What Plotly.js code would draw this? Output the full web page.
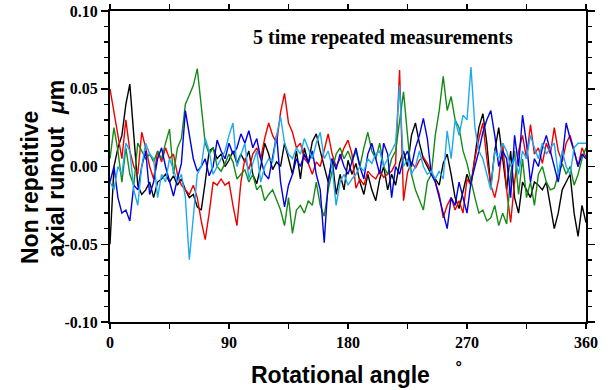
<!DOCTYPE html>
<html><head><meta charset="utf-8">
<script src="https://cdn.plot.ly/plotly-3.0.1.min.js"></script>
<style>html,body{margin:0;padding:0;background:#fff}#chart{width:612px;height:390px}</style>
</head><body><div id="chart"></div>
<script>
const angles = [0,3,6,9,12,15,18,21,24,27,30,33,36,39,42,45,48,51,54,57,60,63,66,69,72,75,78,81,84,87,
90,93,96,99,102,105,108,111,114,117,120,123,126,129,132,135,138,141,144,147,150,153,156,159,162,165,168,171,174,177,
180,183,186,189,192,195,198,201,204,207,210,213,216,219,222,225,228,231,234,237,240,243,246,249,252,255,258,261,264,267,
270,273,276,279,282,285,288,291,294,297,300,303,306,309,312,315,318,321,324,327,330,333,336,339,342,345,348,351,354,357,360];

const run1Black = [-0.050,0.000,0.012,0.020,0.040,0.053,0.020,-0.012,-0.018,-0.015,
-0.010,-0.020,-0.010,-0.008,-0.005,-0.010,-0.006,-0.012,-0.008,-0.015,
-0.020,-0.018,-0.026,-0.028,-0.010,0.010,0.012,0.005,0.008,0.000,
0.004,0.010,0.002,0.008,0.003,0.010,-0.005,-0.011,0.000,0.015,
0.008,-0.002,0.003,0.000,0.015,0.005,-0.005,0.010,-0.008,0.012,
0.002,0.016,0.021,0.010,0.000,-0.010,0.005,-0.018,-0.005,-0.015,
0.004,-0.005,0.002,-0.010,-0.018,-0.005,-0.015,-0.022,-0.008,0.000,
-0.015,-0.005,-0.012,0.002,0.010,0.000,0.020,0.028,0.015,0.005,
0.000,-0.005,-0.008,-0.012,0.002,0.008,-0.005,-0.020,-0.027,-0.015,
-0.005,-0.012,0.005,0.025,0.034,0.015,-0.013,0.010,0.025,0.005,
-0.015,0.010,-0.020,-0.030,-0.010,-0.015,-0.020,-0.010,-0.012,-0.015,
-0.010,-0.025,-0.040,-0.030,-0.015,-0.010,-0.005,-0.030,-0.045,-0.025,
-0.036];

const run2Red = [0.050,0.035,0.020,0.005,0.030,0.010,0.000,-0.005,0.022,0.012,
0.000,-0.008,0.010,0.003,0.012,0.005,0.008,-0.005,-0.012,-0.015,
-0.018,-0.012,-0.020,-0.035,-0.047,-0.030,-0.010,-0.012,-0.008,-0.012,
-0.010,-0.025,-0.038,-0.010,0.005,-0.002,0.008,0.012,0.005,0.018,
0.028,0.020,0.015,0.035,0.047,0.028,0.022,0.012,0.015,0.005,
0.002,-0.005,0.003,0.000,0.010,0.021,0.008,0.000,0.005,0.012,
0.017,0.008,-0.014,-0.008,-0.012,-0.003,-0.006,-0.008,-0.003,-0.007,
-0.005,-0.003,0.002,0.062,-0.022,-0.004,0.003,-0.001,0.004,0.006,
0.002,-0.003,-0.010,-0.018,-0.033,-0.025,-0.020,-0.028,-0.022,-0.030,
-0.008,-0.012,0.005,0.018,0.028,0.005,-0.012,-0.020,-0.008,0.015,
-0.015,-0.036,-0.010,0.010,0.020,0.005,0.027,0.008,0.012,0.002,
0.015,0.008,0.025,0.010,0.003,0.015,0.020,0.010,0.000,0.012,
0.006];

const run3Green = [0.005,0.025,0.010,-0.010,0.012,-0.005,-0.012,0.015,0.010,0.005,
0.008,0.003,0.010,0.005,0.015,0.024,-0.005,0.012,0.018,0.040,
0.046,0.052,0.063,0.040,0.015,0.008,0.012,0.000,-0.003,0.002,
0.008,0.003,-0.008,-0.005,-0.002,-0.010,-0.005,-0.015,-0.012,-0.022,
-0.018,-0.015,-0.022,-0.028,-0.038,-0.020,-0.043,-0.028,-0.025,-0.030,
-0.022,-0.025,-0.010,-0.025,-0.032,-0.015,-0.003,0.008,0.012,0.005,
0.010,0.003,0.010,0.000,0.012,0.022,0.010,0.005,0.015,0.000,
-0.005,0.005,0.010,0.030,0.048,0.020,-0.005,-0.015,-0.022,-0.028,
-0.010,-0.005,0.020,0.036,0.058,0.036,0.045,0.030,0.025,0.010,
0.002,-0.010,-0.020,-0.030,-0.028,-0.035,-0.033,-0.025,-0.038,-0.030,
-0.037,-0.005,0.010,-0.018,0.005,-0.020,-0.010,-0.025,-0.005,0.000,
-0.010,-0.015,-0.014,-0.005,0.002,-0.005,0.000,-0.012,-0.005,0.005,
0.012];

const run4Blue = [-0.010,0.000,-0.020,-0.030,-0.028,-0.035,-0.012,-0.015,0.000,0.010,
-0.018,-0.010,0.005,0.012,0.000,-0.010,-0.019,-0.008,0.002,0.036,
0.020,0.005,-0.003,0.000,0.005,-0.006,0.000,0.017,0.010,0.005,
0.015,0.008,0.012,0.021,0.015,0.023,0.012,0.018,0.005,-0.005,
-0.008,0.005,0.020,-0.010,-0.026,-0.012,-0.005,0.005,0.000,0.008,
0.002,0.010,-0.005,-0.015,-0.049,-0.010,0.005,-0.002,0.008,0.000,
-0.005,0.003,0.012,0.000,-0.008,0.008,0.015,0.005,-0.005,0.015,
0.008,-0.020,0.000,-0.005,0.005,0.010,0.000,0.012,0.020,0.031,
0.018,-0.005,-0.010,-0.020,-0.030,-0.040,-0.020,-0.025,-0.010,-0.020,
-0.030,-0.010,0.000,0.010,0.022,0.030,0.036,0.020,0.000,0.010,
0.005,-0.020,0.020,0.000,0.033,0.015,-0.010,0.005,0.000,0.012,
0.020,0.010,0.000,-0.010,0.005,0.028,0.018,0.010,0.000,0.008,
0.005];

const run5Cyan = [-0.010,-0.015,0.000,-0.005,0.015,0.010,-0.015,-0.025,0.000,0.015,
0.008,0.005,-0.020,-0.005,-0.010,0.005,-0.002,-0.010,-0.005,-0.020,
-0.060,-0.030,-0.005,0.000,0.018,0.010,-0.005,0.000,0.005,0.010,
0.020,0.028,0.000,0.008,0.015,-0.008,0.002,0.010,-0.010,0.000,
0.005,0.003,0.020,0.032,0.015,0.008,0.005,0.012,0.008,0.018,
0.012,0.005,0.015,0.022,0.005,0.010,0.000,-0.025,-0.010,-0.005,
-0.012,-0.008,-0.005,0.000,-0.003,0.005,0.002,0.008,0.010,0.000,
0.005,0.010,0.015,0.052,0.000,0.005,-0.005,0.000,0.010,0.000,
-0.005,-0.003,-0.008,-0.003,-0.008,0.023,0.005,0.030,0.020,0.033,
0.030,0.064,0.025,0.010,0.005,-0.005,-0.015,0.010,0.005,0.015,
0.010,0.000,0.005,-0.005,0.010,0.005,0.020,0.012,0.005,0.015,
0.008,0.012,0.015,-0.005,0.010,0.000,-0.005,0.012,0.015,0.015,
0.015];

const seriesList = [run1Black, run2Red, run3Green, run4Blue, run5Cyan];
const seriesColors = ['#000000', '#ee0000', '#168a16', '#0000e0', '#1eaaf0'];

const xTickVals = [0, 90, 180, 270, 360];
const xTickText = ['0', '90', '180', '270', '360'];
const yTickVals = [-0.10, -0.05, 0.00, 0.05, 0.10];
const yTickText = ['-0.10', '-0.05', '0.00', '0.05', '0.10'];

const chartTitle = '5 time repeated measurements';
const xTitle = 'Rotational angle\u00a0\u00a0\u00a0\u00a0<sup>\u00b0</sup>';
const yTitleLine1 = 'Non repetitive';
const yTitleLine2 = 'axial runout\u00a0\u00a0<i>\u03bc</i>m';

const traces = seriesList.map((ys, i) => ({
  x: angles, y: ys, type: 'scatter', mode: 'lines',
  line: {color: seriesColors[i], width: 1.4},
  hoverinfo: 'skip', showlegend: false
}));

const tickFont = {family: '"Liberation Serif", "Times New Roman", serif', size: 16, color: '#000', weight: 'bold'};
const titleFont = {family: '"Liberation Sans", Arial, sans-serif', size: 23, color: '#000', weight: 'bold'};

const layout = {
  width: 612, height: 390,
  margin: {l: 110, r: 26, t: 11, b: 68, pad: 0},
  paper_bgcolor: '#fff', plot_bgcolor: '#fff',
  xaxis: {
    range: [0, 360], tickvals: xTickVals, ticktext: xTickText,
    ticks: 'outside', ticklen: 5, tickwidth: 1.5, tickcolor: '#000',
    minor: {dtick: 45, tick0: 0, ticks: 'outside', ticklen: 5, tickwidth: 1.5, tickcolor: '#000'},
    showline: true, linecolor: '#000', linewidth: 2, mirror: 'allticks',
    showgrid: false, zeroline: false, tickfont: tickFont
  },
  yaxis: {
    range: [-0.10, 0.10], tickvals: yTickVals, ticktext: yTickText,
    ticks: 'outside', ticklen: 7, tickwidth: 1.5, tickcolor: '#000',
    minor: {dtick: 0.01, tick0: 0, ticks: 'outside', ticklen: 4, tickwidth: 1.5, tickcolor: '#000'},
    showline: true, linecolor: '#000', linewidth: 2, mirror: 'allticks',
    showgrid: false, zeroline: false, tickfont: tickFont
  },
  annotations: [{
    text: chartTitle, xref: 'paper', yref: 'paper', x: 0.573, y: 0.916,
    xanchor: 'center', yanchor: 'middle', showarrow: false,
    font: {family: '"Liberation Serif", "Times New Roman", serif', size: 20, color: '#000', weight: 'bold'}
  }, {
    text: xTitle, xref: 'paper', yref: 'paper', x: 0.292, y: -0.165,
    xanchor: 'left', yanchor: 'middle', showarrow: false, font: titleFont
  }, {
    text: yTitleLine1, xref: 'paper', yref: 'paper', x: -0.168, y: 0.431,
    xanchor: 'center', yanchor: 'middle', textangle: -90, showarrow: false, font: titleFont
  }, {
    text: yTitleLine2, xref: 'paper', yref: 'paper', x: -0.113, y: 0.492,
    xanchor: 'center', yanchor: 'middle', textangle: -90, showarrow: false, font: titleFont
  }]
};

Plotly.newPlot('chart', traces, layout, {displayModeBar: false, staticPlot: true});
</script></body></html>
